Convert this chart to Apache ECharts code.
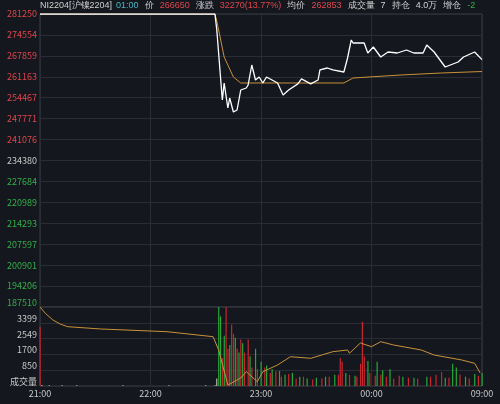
<!DOCTYPE html>
<html><head><meta charset="utf-8">
<script src="https://cdn.jsdelivr.net/npm/echarts@6/dist/echarts.min.js"></script>
<style>html,body{margin:0;background:#15171e}#main{width:500px;height:404px}</style>
</head><body><div id="main"></div>
<script>
// minutes since 21:00 and price at that minute
var priceMin = [0, 95, 96, 99, 100, 102, 103, 105, 107, 109, 112, 113, 115, 117, 119, 121, 123, 126, 129, 132, 135, 140, 142, 147, 151, 152, 156, 159, 165, 167, 169, 170, 176, 178, 181, 185, 189, 194, 199, 203, 208, 210, 214, 218, 220, 227, 230, 236, 240];
var priceVal = [281250, 281250, 276132, 253737, 259177, 251178, 254377, 249900, 250538, 256937, 257577, 258537, 264935, 260136, 261097, 259177, 261097, 260136, 259177, 255337, 256937, 258897, 260496, 258897, 260136, 263375, 263975, 263375, 262696, 267174, 272933, 271973, 271973, 268774, 270693, 267494, 269094, 268774, 269734, 268774, 268774, 271333, 269094, 265895, 264295, 265895, 267494, 269094, 266650];
var avgMin = [0, 95, 96, 100, 105, 109, 165, 170, 196, 218, 240];
var avgVal = [281250, 281250, 279000, 267494, 261097, 259177, 259177, 260776, 261737, 262375, 262850];

var volAvgMin = [0, 3, 7, 11, 15, 33, 69, 94, 97, 102, 109, 112, 118, 121, 129, 136, 147, 159, 167, 168, 174, 180, 185, 192, 207, 214, 229, 236, 239];
var volAvgVal = [4249, 3900, 3550, 3330, 3190, 3066, 2921, 2652, 1937, 50, 430, 770, 230, 770, 1130, 1576, 1490, 1845, 1937, 1760, 2313, 2114, 2383, 2206, 1937, 1668, 1399, 1221, 700];

var upMin = [0, 99, 101, 102, 104, 105, 107, 109, 111, 113, 115, 118, 122, 125, 128, 131, 135, 139, 143, 148, 153, 157, 162, 163, 164, 168, 172, 174, 175, 176, 179, 182, 185, 188, 192, 195, 200, 205, 212, 215, 218, 222, 228, 233, 238];
var upVol = [3190, 1500, 4249, 2000, 3300, 2800, 2000, 2500, 1800, 2500, 1000, 900, 1000, 700, 800, 500, 650, 400, 500, 350, 400, 500, 600, 1500, 1300, 600, 500, 1200, 3450, 1600, 700, 550, 600, 500, 400, 550, 450, 400, 500, 600, 750, 450, 600, 400, 550];
var downMin = [97, 98, 100, 103, 106, 108, 110, 114, 117, 120, 123, 126, 130, 133, 137, 141, 145, 150, 155, 160, 166, 171, 178, 183, 186, 190, 197, 203, 210, 220, 224, 226, 231, 236, 240];
var downVol = [4249, 3740, 2700, 2200, 2600, 1800, 2300, 1600, 2000, 1300, 1100, 900, 800, 600, 700, 500, 400, 450, 500, 600, 700, 550, 1350, 1300, 850, 900, 500, 450, 500, 450, 1200, 1000, 500, 650, 700];
var flatMin = [1, 5, 12, 20, 45, 70, 90, 95, 96];
var flatVol = [60, 40, 40, 40, 40, 40, 40, 40, 400];

var timeLabels = {0: '21:00', 60: '22:00', 120: '23:00', 180: '00:00', 240: '09:00'};
var prevClose = 234380;

function pairs(xs, ys) { return xs.map(function (x, i) { return [x, ys[i]]; }); }

var chart = echarts.init(document.getElementById('main'));
var gridLine = {show: true, lineStyle: {color: '#2a2d35'}};
var lbl = {fontSize: 9, fontFamily: 'Noto Sans CJK SC', margin: 3};

var option = {
    backgroundColor: '#15171e',
    animation: false,
    grid: [
        {left: 40, right: 18, top: 14, height: 293, show: true, borderColor: '#3a3d45'},
        {left: 40, right: 18, top: 307, height: 79, show: true, borderColor: '#3a3d45'}
    ],
    xAxis: [
        {type: 'value', gridIndex: 0, min: 0, max: 240, interval: 60, axisLabel: {show: false},
            axisLine: {show: false}, axisTick: {show: false}, splitLine: gridLine},
        {type: 'value', gridIndex: 1, min: 0, max: 240, interval: 60,
            axisLabel: Object.assign({}, lbl, {color: '#c8c8c8', formatter: function (v) { return timeLabels[v] || ''; }}),
            axisLine: {show: false}, axisTick: {show: false}, splitLine: gridLine}
    ],
    yAxis: [
        {type: 'value', gridIndex: 0, min: 187510, max: 281250, interval: (281250 - 187510) / 14,
            axisLine: {show: false}, axisTick: {show: false}, splitLine: gridLine,
            axisLabel: Object.assign({}, lbl, {
                formatter: function (v) { var r = Math.round(v); return r === 187510 ? '' : String(r); },
                color: function (v) { var r = Math.round(v); return r > prevClose ? '#e0454b' : (r < prevClose ? '#2fb04a' : '#c8c8c8'); }
            })},
        {type: 'value', gridIndex: 1, min: 0, max: 4249, interval: 849.8,
            axisLine: {show: false}, axisTick: {show: false}, splitLine: gridLine,
            axisLabel: Object.assign({}, lbl, {
                formatter: function (v) { var r = Math.round(v); return r === 0 ? '成交量' : (r >= 4249 ? '187510' : String(r)); },
                color: function (v) { return Math.round(v) >= 4249 ? '#2fb04a' : '#c8c8c8'; },
                verticalAlign: 'bottom'
            })}
    ],
    series: [
        {type: 'line', xAxisIndex: 0, yAxisIndex: 0, data: pairs(avgMin, avgVal), symbol: 'none',
            lineStyle: {color: '#c9923a', width: 1}},
        {type: 'line', xAxisIndex: 0, yAxisIndex: 0, data: pairs(priceMin, priceVal), symbol: 'none',
            lineStyle: {color: '#ffffff', width: 1.3}},
        {type: 'bar', xAxisIndex: 1, yAxisIndex: 1, data: pairs(upMin, upVol), barWidth: 1.2, itemStyle: {color: '#c8262d'}},
        {type: 'bar', xAxisIndex: 1, yAxisIndex: 1, data: pairs(downMin, downVol), barWidth: 1.2, barGap: '-100%', itemStyle: {color: '#26a83a'}},
        {type: 'bar', xAxisIndex: 1, yAxisIndex: 1, data: pairs(flatMin, flatVol), barWidth: 1, barGap: '-100%', itemStyle: {color: '#d8d8d8'}},
        {type: 'line', xAxisIndex: 1, yAxisIndex: 1, data: pairs(volAvgMin, volAvgVal), symbol: 'none',
            lineStyle: {color: '#c9923a', width: 1}}
    ],
    graphic: [{
        type: 'text', left: 40, top: 1,
        style: {
            fontSize: 9, fontFamily: 'Noto Sans CJK SC',
            text: '{w|NI2204[沪镍2204]}  {c|01:00}   {w|价}   {r|266650}   {w|涨跌}   {r|32270(13.77%)}   {w|均价}   {r|262853}   {w|成交量}   {w|7}   {w|持仓}   {w|4.0万}   {w|增仓}   {g|-2}',
            rich: {w: {fill: '#d0d0d0', fontSize: 9}, r: {fill: '#e0454b', fontSize: 9}, c: {fill: '#40b8c4', fontSize: 9}, g: {fill: '#2fb04a', fontSize: 9}}
        }
    }]
};
chart.setOption(option);
</script>
</body></html>
